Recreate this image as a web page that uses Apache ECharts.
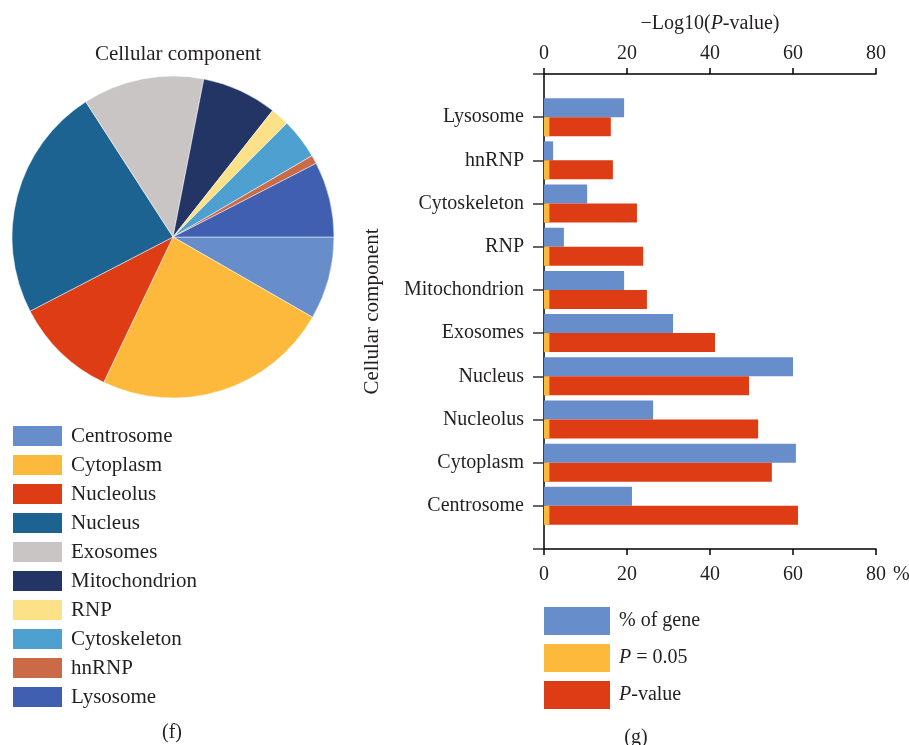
<!DOCTYPE html>
<html lang="en">

<head>
    <meta charset="UTF-8">
    <title>Cellular component</title>
    <script src="https://cdn.jsdelivr.net/npm/echarts@6/dist/echarts.min.js"></script>
    <style>
        html, body {
            margin: 0;
            padding: 0;
            background: #fff;
        }

        .chart {
            width: 909px;
            height: 745px;
        }
    </style>
</head>

<body>
    <div class="chart"></div>
</body>

</html>
<script>
    // categories, bottom to top in the bar chart, clockwise in the pie
    var categories = ['Centrosome', 'Cytoplasm', 'Nucleolus', 'Nucleus', 'Exosomes',
        'Mitochondrion', 'RNP', 'Cytoskeleton', 'hnRNP', 'Lysosome'];
    // % of gene (also the pie shares)
    var geneShare = [21.2, 60.7, 26.3, 60.0, 31.1, 19.3, 4.8, 10.4, 2.2, 19.3];
    // -log10(P-value)
    var pValueLog = [61.2, 54.9, 51.6, 49.4, 41.2, 24.8, 23.9, 22.4, 16.6, 16.1];
    // -log10(0.05)
    var thresholdLog = [1.3, 1.3, 1.3, 1.3, 1.3, 1.3, 1.3, 1.3, 1.3, 1.3];
    var xTicks = [0, 20, 40, 60, 80];

    var pieColors = ['#678dca', '#fdb93b', '#dd3c14', '#1c6391', '#c9c5c4',
        '#233564', '#fde189', '#4da0d0', '#cb6a46', '#405fb0'];

    var font = 'Liberation Serif';
    var ink = '#231f20';

    // empty slot top and bottom so the labels sit on the ticks
    var yCats = [''].concat(categories).concat(['']);
    function pad(arr) {
        return [null].concat(arr).concat([null]);
    }

    var pieData = [];
    for (var i = 0; i < categories.length; i++) {
        pieData.push({
            name: categories[i],
            value: geneShare[i],
            itemStyle: { color: pieColors[i] }
        });
    }

    var xAxisCommon = {
        type: 'value',
        min: xTicks[0],
        max: xTicks[xTicks.length - 1],
        interval: 20,
        splitLine: { show: false },
        axisLine: { show: true, lineStyle: { color: '#000', width: 1.5 } },
        axisTick: { show: true, length: 6, lineStyle: { color: '#000', width: 1.5 } }
    };

    var option = {
        animation: false,
        textStyle: { fontFamily: font, color: ink },
        graphic: [
            { type: 'text', x: 178, y: 54, style: { text: 'Cellular component', font: '21px "' + font + '"', fill: ink, align: 'center', verticalAlign: 'middle' } },
            { type: 'text', x: 172, y: 733, style: { text: '(f)', font: '20px "' + font + '"', fill: ink, align: 'center', verticalAlign: 'middle' } },
            { type: 'text', x: 636, y: 738, style: { text: '(g)', font: '20px "' + font + '"', fill: ink, align: 'center', verticalAlign: 'middle' } }
        ],
        legend: [{
            data: categories,
            orient: 'vertical',
            left: 11,
            top: 424,
            padding: 0,
            icon: 'rect',
            itemWidth: 51,
            itemHeight: 22,
            itemGap: 5,
            selectedMode: false,
            textStyle: { fontFamily: font, fontSize: 21, color: ink, padding: [0, 0, 0, 3] }
        }, {
            data: ['% of gene', 'P = 0.05', 'P-value'],
            orient: 'vertical',
            left: 544,
            top: 607,
            padding: 0,
            icon: 'rect',
            itemWidth: 66,
            itemHeight: 28,
            itemGap: 9,
            selectedMode: false,
            formatter: function(name) {
                if (name === 'P = 0.05') return '{i|P} = 0.05';
                if (name === 'P-value') return '{i|P}-value';
                return name;
            },
            textStyle: {
                fontFamily: font, fontSize: 20, color: ink, padding: [0, 0, 0, 4],
                rich: { i: { fontFamily: font, fontSize: 20, fontStyle: 'italic', color: ink } }
            }
        }],
        grid: {
            left: 544,
            right: 33,
            top: 74,
            bottom: 196,
            outerBoundsMode: 'none'
        },
        xAxis: [Object.assign({}, xAxisCommon, {
            position: 'bottom',
            name: '%',
            nameLocation: 'end',
            nameGap: 17,
            nameTextStyle: { fontFamily: font, fontSize: 20, color: ink, verticalAlign: 'top', padding: [16, 0, 0, 0] },
            axisLabel: { fontFamily: font, fontSize: 20, color: ink, margin: 16 }
        }), Object.assign({}, xAxisCommon, {
            position: 'top',
            name: '\u2212Log10({i|P}-value)',
            nameLocation: 'middle',
            nameGap: 40,
            nameTextStyle: {
                fontFamily: font, fontSize: 20, color: ink,
                rich: { i: { fontFamily: font, fontSize: 20, fontStyle: 'italic', color: ink } }
            },
            axisLabel: { fontFamily: font, fontSize: 20, color: ink, margin: 10 }
        })],
        yAxis: [{
            type: 'category',
            data: yCats,
            boundaryGap: false,
            name: 'Cellular component',
            nameLocation: 'middle',
            nameGap: 161,
            nameRotate: 90,
            nameTextStyle: { fontFamily: font, fontSize: 21, color: ink },
            axisLine: { show: true, lineStyle: { color: '#000', width: 1.5 } },
            axisTick: { show: true, length: 11, lineStyle: { color: '#333', width: 1.5 } },
            axisLabel: { fontFamily: font, fontSize: 20, color: ink, margin: 20 }
        }, {
            type: 'category',
            data: yCats,
            boundaryGap: false,
            show: false
        }],
        series: [{
            type: 'pie',
            center: [173, 237],
            radius: 161,
            startAngle: 0,
            clockwise: true,
            label: { show: false },
            labelLine: { show: false },
            emphasis: { disabled: true },
            itemStyle: { borderColor: '#fff', borderWidth: 0.5 },
            data: pieData
        }, {
            name: '% of gene',
            type: 'bar',
            xAxisIndex: 0,
            yAxisIndex: 0,
            barWidth: 19,
            barGap: 0,
            itemStyle: { color: '#678dca' },
            data: pad(geneShare)
        }, {
            name: 'P-value',
            type: 'bar',
            xAxisIndex: 1,
            yAxisIndex: 0,
            barWidth: 19,
            barGap: 0,
            itemStyle: { color: '#dd3c14' },
            data: pad(pValueLog)
        }, {
            // empty slot so the threshold bar lines up with the P-value bar
            name: 'spacer',
            type: 'bar',
            xAxisIndex: 1,
            yAxisIndex: 1,
            barWidth: 19,
            barGap: 0,
            data: pad([])
        }, {
            name: 'P = 0.05',
            type: 'bar',
            xAxisIndex: 1,
            yAxisIndex: 1,
            barWidth: 19,
            barGap: 0,
            z: 3,
            itemStyle: { color: '#fdb93b' },
            data: pad(thresholdLog)
        }]
    };

    var myChart = echarts.init(document.querySelector('.chart'));
    myChart.setOption(option);
</script>
